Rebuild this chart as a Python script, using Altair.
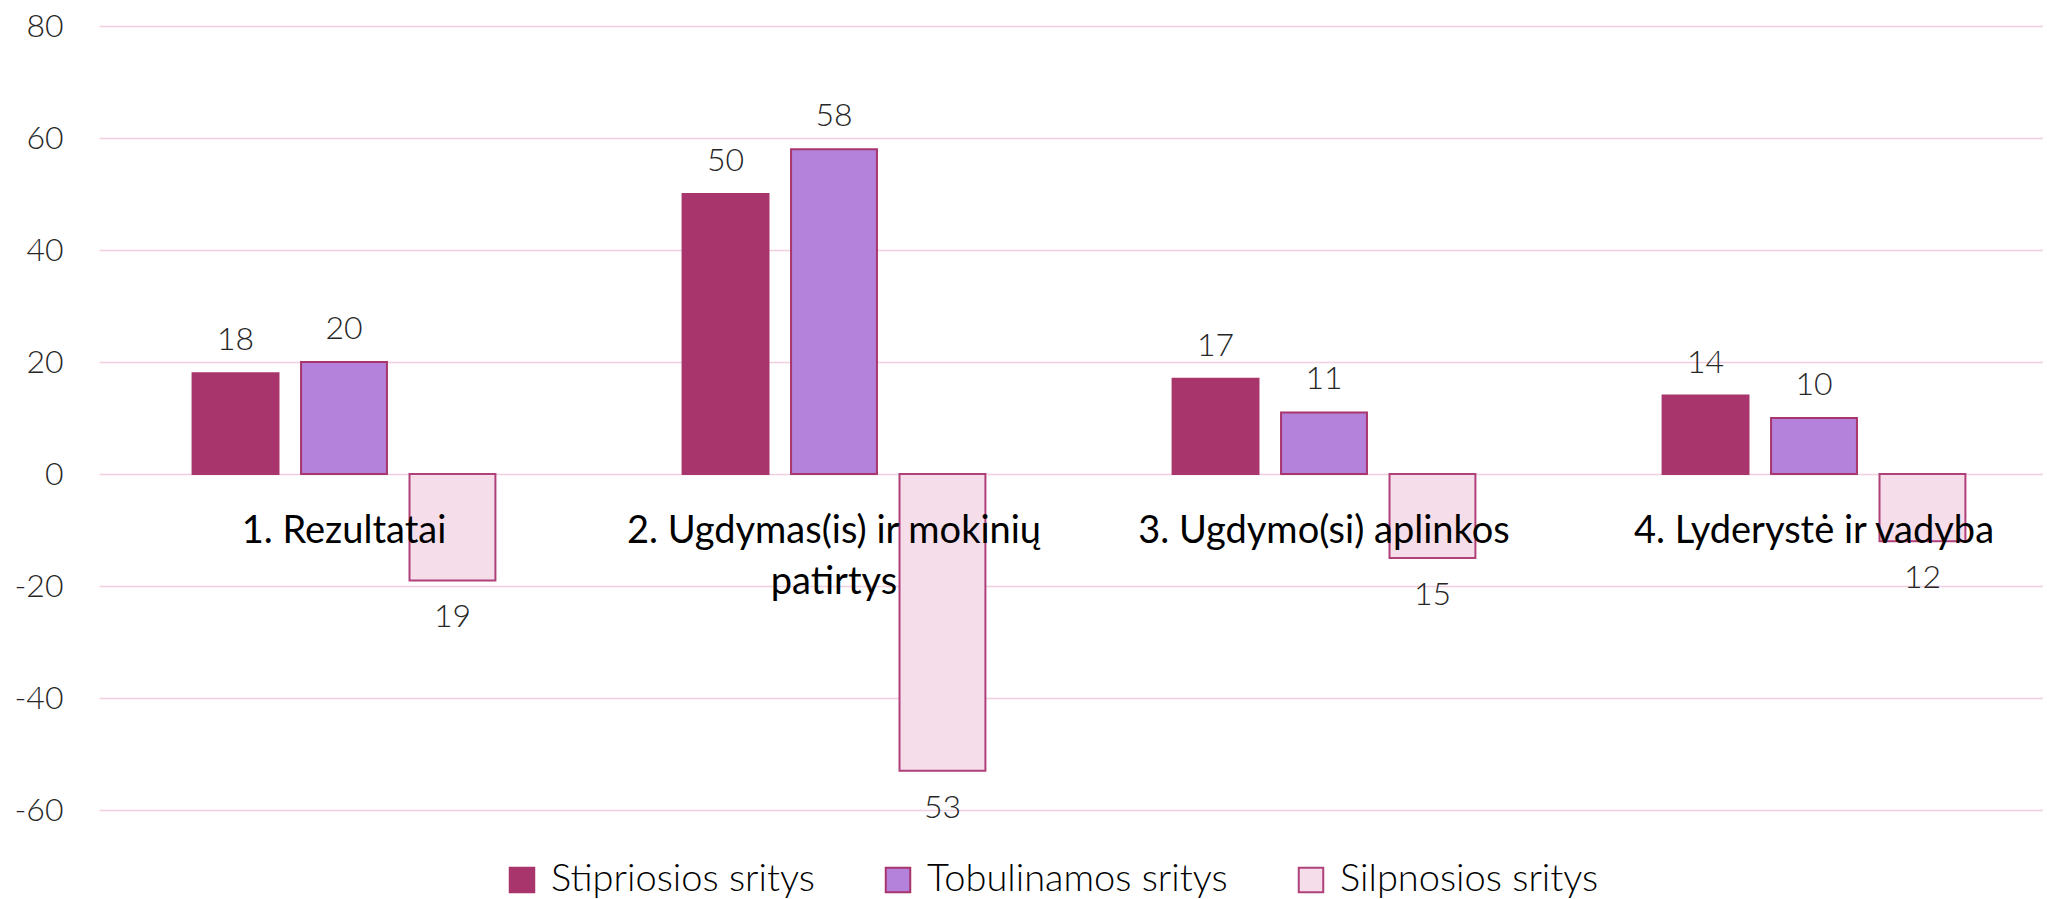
import altair as alt
import pandas as pd

categories = [
    "1. Rezultatai",
    "2. Ugdymas(is) ir mokinių patirtys",
    "3. Ugdymo(si) aplinkos",
    "4. Lyderystė ir vadyba",
]
series = ["Stipriosios sritys", "Tobulinamos sritys", "Silpnosios sritys"]
stipriosios = [18, 50, 17, 14]
tobulinamos = [20, 58, 11, 10]
silpnosios = [-19, -53, -15, -12]
y_ticks = [-60, -40, -20, 0, 20, 40, 60, 80]
fills = ["#A8356B", "#B482DA", "#F5DEEA"]
strokes = ["#A8356B", "#A8356B", "#B0407A"]

rows = []
for i, c in enumerate(categories):
    for s, vals in zip(series, [stipriosios, tobulinamos, silpnosios]):
        rows.append({"kategorija": c, "sritis": s, "reiksme": vals[i]})
df = pd.DataFrame(rows)

x_enc = alt.X(
    "kategorija:N",
    sort=categories,
    scale=alt.Scale(range=[0, 1960], paddingInner=0.382, paddingOuter=0.191),
    axis=alt.Axis(
        title=None,
        orient="bottom",
        offset=-336,
        domain=False,
        ticks=False,
        grid=False,
        labelPadding=38,
        labelFont="Lato",
        labelFontSize=38,
        labelColor="#000000",
        labelAngle=0,
        labelLimit=0,
        labelOverlap=False,
        labelBound=False,
        labelLineHeight=51,
        labelExpr="datum.label == '2. Ugdymas(is) ir mokinių patirtys' ? ['2. Ugdymas(is) ir mokinių', 'patirtys'] : datum.label",
        zindex=1,
    ),
)
xoff_enc = alt.XOffset("sritis:N", sort=series, scale=alt.Scale(paddingInner=0.208, paddingOuter=0))
y_enc = alt.Y(
    "reiksme:Q",
    scale=alt.Scale(domain=[-60, 80], nice=False, zero=True),
    axis=alt.Axis(
        values=y_ticks,
        title=None,
        domain=False,
        ticks=False,
        labelFont="Lato",
        labelFontSize=32,
        labelFontWeight=300,
        labelColor="#262626",
        labelPadding=36,
        labelExpr="datum.value + ''",
        gridColor="#EFCFE1",
        gridWidth=1.5,
    ),
)

base = alt.Chart(df)

bars = base.mark_bar(strokeWidth=2).encode(
    x=x_enc,
    xOffset=xoff_enc,
    y=y_enc,
    color=alt.Color(
        "sritis:N",
        sort=series,
        scale=alt.Scale(domain=series, range=fills),
        legend=alt.Legend(
            title=None,
            orient="none",
            legendX=404,
            legendY=835,
            direction="horizontal",
            symbolType="square",
            symbolSize=600,
            symbolStrokeColor="#A8356B",
            symbolStrokeWidth=2,
            labelFont="Lato",
            labelFontSize=38,
            labelFontWeight=300,
            labelColor="#000000",
            columnPadding=64,
            labelOffset=10,
            labelLimit=0,
        ),
    ),
    stroke=alt.Stroke("sritis:N", sort=series, scale=alt.Scale(domain=series, range=strokes), legend=None),
)

text_pos = (
    base.transform_filter("datum.reiksme > 0")
    .transform_calculate(lbl="abs(datum.reiksme)")
    .mark_text(dy=-33, font="Lato", fontSize=32, fontWeight=300, color="#262626")
    .encode(x=x_enc, xOffset=xoff_enc, y=y_enc, text="lbl:Q")
)
text_neg = (
    base.transform_filter("datum.reiksme < 0")
    .transform_calculate(lbl="abs(datum.reiksme)")
    .mark_text(dy=37, font="Lato", fontSize=32, fontWeight=300, color="#262626")
    .encode(x=x_enc, xOffset=xoff_enc, y=y_enc, text="lbl:Q")
)

chart = (
    alt.layer(bars, text_pos, text_neg)
    .properties(
        width=1935,
        height=784,
        padding={"left": 91, "top": 18, "right": 9, "bottom": 89},
        autosize=alt.AutoSizeParams(type="none"),
    )
    .configure_view(stroke=None)
)

chart.save("out.html", embed_options={"renderer": "svg", "actions": False})
